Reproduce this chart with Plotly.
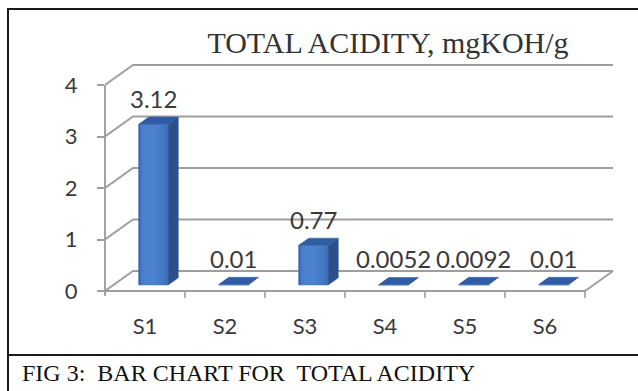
import plotly.graph_objects as go

# ---- data ----
CATEGORIES = ["S1", "S2", "S3", "S4", "S5", "S6"]
ACIDITY = [3.12, 0.01, 0.77, 0.0052, 0.0092, 0.01]
VALUE_LABELS = ["3.12", "0.01", "0.77", "0.0052", "0.0092", "0.01"]
Y_TICKS = [0, 1, 2, 3, 4]
TITLE = "TOTAL ACIDITY, mgKOH/g"
CAPTION = "FIG 3:  BAR CHART FOR  TOTAL ACIDITY"

# ---- page geometry ----
W, H = 638, 391
ML, MR, MT, MB = 105, 21, 59, 89
PLOT_W = W - ML - MR
PLOT_H = H - MT - MB
SLOT_PX = 80.0          # width of one category slot
UNIT_PX = 51.5          # pixels per 1 mgKOH/g
ZERO_PX = 291           # page row of the value 0 on the front edge
Y_MIN = -(H - MB - ZERO_PX) / UNIT_PX
Y_MAX = (ZERO_PX - MT) / UNIT_PX
X_MAX = PLOT_W / SLOT_PX
N = len(CATEGORIES)

# oblique projection of depth: the back wall sits 28 px right, 20 px up
DX = 28 / SLOT_PX
DY = 20 / UNIT_PX
D0, D1 = 0.30, 0.66     # bar depth span
BW = 0.37               # bar width (slot units)

GRID = "#9e9e9e"
TEXT = "#3a3a3a"
SANS = "Lato, 'Open Sans', sans-serif"
SERIF = "'Liberation Serif', 'Times New Roman', serif"


def px_x(px):
    return (px - ML) / PLOT_W


def px_y(py):
    return (H - MB - py) / PLOT_H


fig = go.Figure()

# walls and floor: each gridline runs along the left wall then the back wall
gx, gy = [], []
for v in Y_TICKS:
    gx += [0, DX, N + DX, None]
    gy += [v, v + DY, v + DY, None]
# front and right edges of the floor
gx += [0, N, N + DX, None]
gy += [0, 0, DY, None]
fig.add_trace(go.Scatter(x=gx, y=gy, mode="lines",
                         line=dict(color=GRID, width=1.9),
                         hoverinfo="skip", showlegend=False))

# category boundary ticks under the floor
tx, ty = [], []
for i in range(1, N + 1):
    tx += [i, i, None]
    ty += [0, -7 / UNIT_PX, None]
fig.add_trace(go.Scatter(x=tx, y=ty, mode="lines",
                         line=dict(color=GRID, width=1.6),
                         hoverinfo="skip", showlegend=False))

# 3-D columns: front face, side face, top face
dd = D1 - D0
for i, v in enumerate(ACIDITY):
    xl = i + 0.5 - BW / 2 + D0 * DX
    xr = xl + BW
    yb = D0 * DY
    yt = v + D0 * DY
    ox, oy = dd * DX, dd * DY
    fig.add_trace(go.Scatter(
        x=[xl, xr, xr, xl, xl], y=[yb, yb, yt, yt, yb],
        fill="toself", mode="lines",
        line=dict(color="#3f73bf", width=0.5),
        fillgradient=dict(type="horizontal", colorscale=[
            [0, "#3261a6"], [0.12, "#4a7fcb"], [0.55, "#4b81ce"], [1, "#3d70bb"]]),
        hoverinfo="skip", showlegend=False))
    fig.add_trace(go.Scatter(
        x=[xr, xr + ox, xr + ox, xr, xr], y=[yb, yb + oy, yt + oy, yt, yb],
        fill="toself", mode="lines", fillcolor="#2a5189",
        line=dict(color="#2a5189", width=0.5),
        hoverinfo="skip", showlegend=False))
    fig.add_trace(go.Scatter(
        x=[xl, xr, xr + ox, xl + ox, xl], y=[yt, yt, yt + oy, yt + oy, yt],
        fill="toself", mode="lines", fillcolor="#2f5ca2",
        line=dict(color="#2f5ca2", width=0.5),
        hoverinfo="skip", showlegend=False))

# value labels above each column
annotations = []
for i, (v, lab) in enumerate(zip(ACIDITY, VALUE_LABELS)):
    annotations.append(dict(
        x=i + 0.5 + D0 * DX, y=v + D0 * DY, xref="x", yref="y",
        text=lab, showarrow=False, yanchor="middle", yshift=26,
        font=dict(family=SANS, size=24, color=TEXT)))

annotations.append(dict(
    x=px_x(20), y=px_y(373), xref="paper", yref="paper",
    text=CAPTION, showarrow=False, xanchor="left", yanchor="middle",
    font=dict(family=SERIF, size=24, color="#111111")))

shapes = [
    # vertical value axis
    dict(type="line", xref="paper", yref="y", x0=0, x1=0,
         y0=-5 / UNIT_PX, y1=Y_TICKS[-1], line=dict(color=GRID, width=1.9)),
    # figure frame and caption separator
    dict(type="rect", xref="paper", yref="paper",
         x0=px_x(8), x1=px_x(660), y0=px_y(410), y1=px_y(9),
         line=dict(color="#1a1a1a", width=2)),
    dict(type="line", xref="paper", yref="paper",
         x0=px_x(8), x1=px_x(660), y0=px_y(355), y1=px_y(355),
         line=dict(color="#1a1a1a", width=2)),
]

fig.update_layout(
    width=W, height=H,
    margin=dict(l=ML, r=MR, t=MT, b=MB, autoexpand=False),
    paper_bgcolor="white", plot_bgcolor="white",
    showlegend=False,
    title=dict(text=TITLE, x=388 / W, xanchor="center",
               y=1 - 42 / H, yanchor="middle",
               font=dict(family=SERIF, size=30, color="#333333")),
    xaxis=dict(range=[0, X_MAX], showgrid=False, zeroline=False,
               showline=False, ticks="",
               tickvals=[i + 0.5 for i in range(N)], ticktext=CATEGORIES,
               anchor="free", position=px_y(ZERO_PX),
               ticklabelstandoff=20,
               tickfont=dict(family=SANS, size=22, color=TEXT)),
    yaxis=dict(range=[Y_MIN, Y_MAX], showgrid=False, zeroline=False,
               showline=False, tickvals=Y_TICKS,
               ticks="outside", ticklen=7, tickwidth=1.6, tickcolor=GRID,
               ticklabelstandoff=15,
               tickfont=dict(family=SANS, size=22, color=TEXT)),
    annotations=annotations,
    shapes=shapes,
)

fig.write_html("out.html")
